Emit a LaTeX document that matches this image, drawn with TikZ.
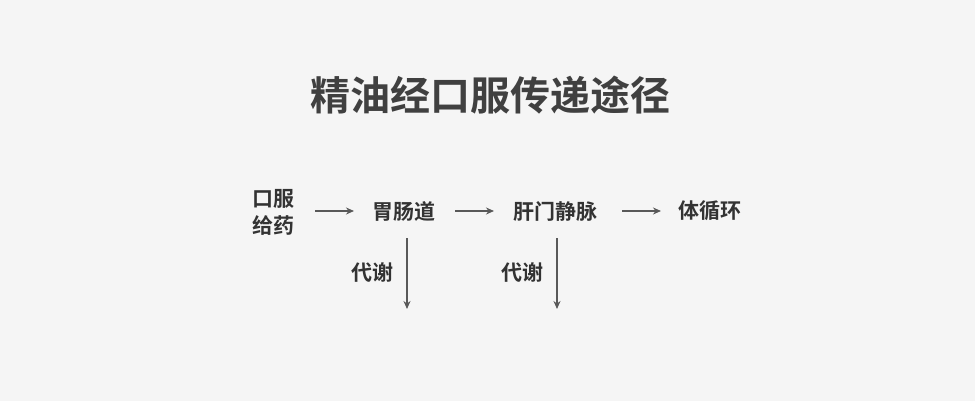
\documentclass[tikz,border=0pt]{standalone}
\usepackage{fontspec}
\newfontfamily\cjk{Noto Sans CJK SC}[BoldFont={* Bold}]
\usetikzlibrary{arrows.meta}
\begin{document}
\begin{tikzpicture}[x=1pt,y=-1pt,
  lbl/.style={font=\cjk\bfseries\fontsize{21}{27}\selectfont,text=black!80,inner sep=1pt,align=center},
  arr/.style={draw=black!65,line width=1.3pt,-{Stealth[length=8pt,width=7pt]}}]
\fill[black!4] (0,0) rectangle (975,401);
\useasboundingbox (0,0) rectangle (975,401);
\node[font=\cjk\bfseries\fontsize{40}{48}\selectfont,text=black!75] (title) at (490,95) {精油经口服传递途径};
\node[lbl] (a) at (273,212) {口服\\给药};
\node[lbl] (b) at (404,211) {胃肠道};
\node[lbl] (c) at (555,211) {肝门静脉};
\node[lbl] (d) at (710,211) {体循环};
\coordinate (a1) at (315,211); \coordinate (a2) at (354,211);
\coordinate (b1) at (455,211); \coordinate (b2) at (494,211);
\coordinate (c1) at (622,211); \coordinate (c2) at (661,211);
\draw[arr] (a1) -- (a2);
\draw[arr] (b1) -- (b2);
\draw[arr] (c1) -- (c2);
\coordinate (s1) at (407,238); \coordinate (e1) at (407,309);
\coordinate (s2) at (557,238); \coordinate (e2) at (557,309);
\draw[arr] (s1) -- (e1);
\draw[arr] (s2) -- (e2);
\node[lbl] (m1) at (372,273) {代谢};
\node[lbl] (m2) at (522,273) {代谢};
\end{tikzpicture}
\end{document}
